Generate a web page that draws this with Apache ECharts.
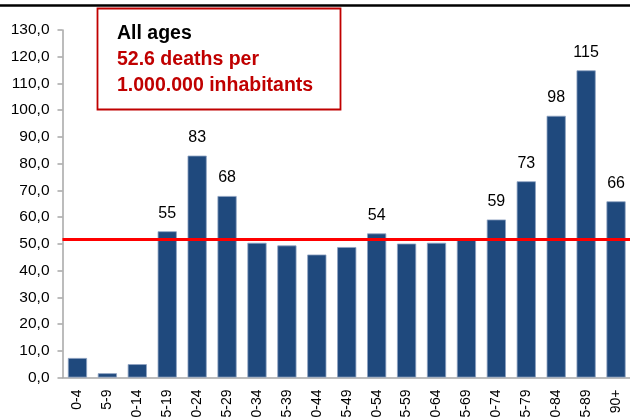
<!DOCTYPE html>
<html><head><meta charset="utf-8">
<script src="https://cdn.jsdelivr.net/npm/echarts@6/dist/echarts.min.js"></script>
<style>html,body{margin:0;padding:0;background:#fff}#c{width:630px;height:418px}</style>
</head><body><div id="c"></div>
<script>
const categories = ['0-4','5-9','10-14','15-19','20-24','25-29','30-34','35-39','40-44','45-49','50-54','55-59','60-64','65-69','70-74','75-79','80-84','85-89','90+'];
const deathRates = [7.3,1.6,5.0,54.7,83.0,67.9,50.4,49.4,46.0,48.8,53.9,50.1,50.4,51.9,59.1,73.4,97.9,114.9,65.9];
const barLabels = ['','','','55','83','68','','','','','54','','','','59','73','98','115','66'];
const averageRate = 51.8;
const yTicks = {min:0, max:130, interval:10};
const boxLines = ['All ages','52.6 deaths per','1.000.000 inhabitants'];

const chart = echarts.init(document.getElementById('c'), null, {renderer:'canvas'});
chart.setOption({
  animation:false,
  grid:{left:62.5, right:-1, top:30, bottom:40.5, containLabel:false, outerBoundsMode:'none'},
  xAxis:{type:'category', data:categories,
    axisLine:{lineStyle:{color:'#a6a6a6', width:1.5}},
    axisTick:{length:5, lineStyle:{color:'#a6a6a6', width:1.5}},
    axisLabel:{rotate:90, margin:12, fontSize:14, color:'#000', fontFamily:'Liberation Sans, Arial', interval:0}},
  yAxis:{type:'value', min:yTicks.min, max:yTicks.max, interval:yTicks.interval,
    axisLine:{show:true, lineStyle:{color:'#a6a6a6', width:1.5}},
    axisTick:{show:true, length:5, lineStyle:{color:'#a6a6a6', width:1.5}},
    splitLine:{show:false},
    axisLabel:{margin:13, fontSize:15.5, color:'#000', fontFamily:'Liberation Sans, Arial',
      formatter:v=>v.toFixed(1).replace('.',',')}},
  series:[{type:'bar', data:deathRates, barWidth:'64%',
    itemStyle:{color:'#1f497d', borderColor:'#8ea2c2', borderWidth:0.8},
    label:{show:true, position:'top', distance:10, fontSize:16, color:'#000', fontFamily:'Liberation Sans, Arial',
      formatter:p=>barLabels[p.dataIndex]},
    markLine:{symbol:'none', silent:true, label:{show:false},
      lineStyle:{color:'#ff0000', width:3, type:'solid'},
      data:[{yAxis:averageRate}]}
  }],
  graphic:[
    {type:'line', shape:{x1:0,y1:5.5,x2:630,y2:5.5}, style:{stroke:'#000', lineWidth:2.5}},
    {type:'rect', shape:{x:97.5,y:8.5,width:243,height:101}, style:{fill:'#fff', stroke:'#c00000', lineWidth:1.8}},
    {type:'text', left:117, top:24, style:{text:boxLines[0], fill:'#000', font:'bold 19.5px Liberation Sans, Arial'}},
    {type:'text', left:117, top:50, style:{text:boxLines[1], fill:'#c00000', font:'bold 19.5px Liberation Sans, Arial'}},
    {type:'text', left:117, top:76, style:{text:boxLines[2], fill:'#c00000', font:'bold 19.5px Liberation Sans, Arial'}}
  ]
});
</script></body></html>
